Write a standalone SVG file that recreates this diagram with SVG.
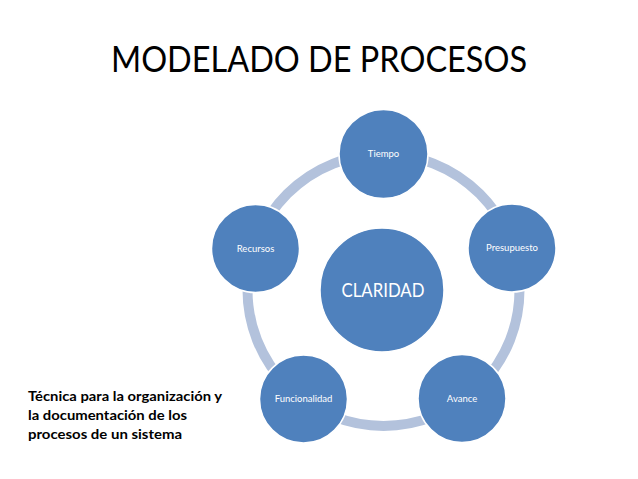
<svg xmlns="http://www.w3.org/2000/svg" width="638" height="479" viewBox="0 0 638 479">
<style>
.node{fill:#4f81bd;stroke:#ffffff;stroke-width:1.5}
.lbl{font-family:Lato,"Liberation Sans",Arial,sans-serif;font-size:9.5px;fill:#ffffff;text-anchor:middle}
.title{font-family:Lato,"Liberation Sans",Arial,sans-serif;font-size:37px;fill:#000000;text-anchor:middle}
.desc{font-family:Lato,"Liberation Sans",Arial,sans-serif;font-size:14px;font-weight:bold;fill:#000000}
</style>
<rect width="638" height="479" fill="#ffffff"/>
<text class="title" x="319" y="72" textLength="416" lengthAdjust="spacingAndGlyphs">MODELADO DE PROCESOS</text>
<g id="connectors">
<circle cx="383.5" cy="290" r="136" fill="none" stroke="#b3c2dc" stroke-width="10"/>
</g>
<g id="center">
<circle class="node" cx="382" cy="290" r="62"/>
<text x="383" y="297" font-family="Lato, Liberation Sans, Arial, sans-serif" font-size="19" fill="#ffffff" text-anchor="middle" textLength="83" lengthAdjust="spacingAndGlyphs">CLARIDAD</text>
</g>
<g id="tiempo">
<circle class="node" cx="383.5" cy="154" r="44.5"/>
<text class="lbl" x="383.5" y="157">Tiempo</text>
</g>
<g id="presupuesto">
<circle class="node" cx="512" cy="248" r="44"/>
<text class="lbl" x="512" y="251">Presupuesto</text>
</g>
<g id="avance">
<circle class="node" cx="462" cy="398.5" r="44"/>
<text class="lbl" x="462" y="402">Avance</text>
</g>
<g id="funcionalidad">
<circle class="node" cx="303.5" cy="399" r="44"/>
<text class="lbl" x="303.5" y="402">Funcionalidad</text>
</g>
<g id="recursos">
<circle class="node" cx="255.5" cy="248.5" r="44"/>
<text class="lbl" x="255.5" y="251.5">Recursos</text>
</g>
<g id="description">
<text class="desc" x="28" y="401" textLength="194" lengthAdjust="spacingAndGlyphs">Técnica para la organización y</text>
<text class="desc" x="28" y="420" textLength="159" lengthAdjust="spacingAndGlyphs">la documentación de los</text>
<text class="desc" x="28" y="439" textLength="154" lengthAdjust="spacingAndGlyphs">procesos de un sistema</text>
</g>
</svg>
